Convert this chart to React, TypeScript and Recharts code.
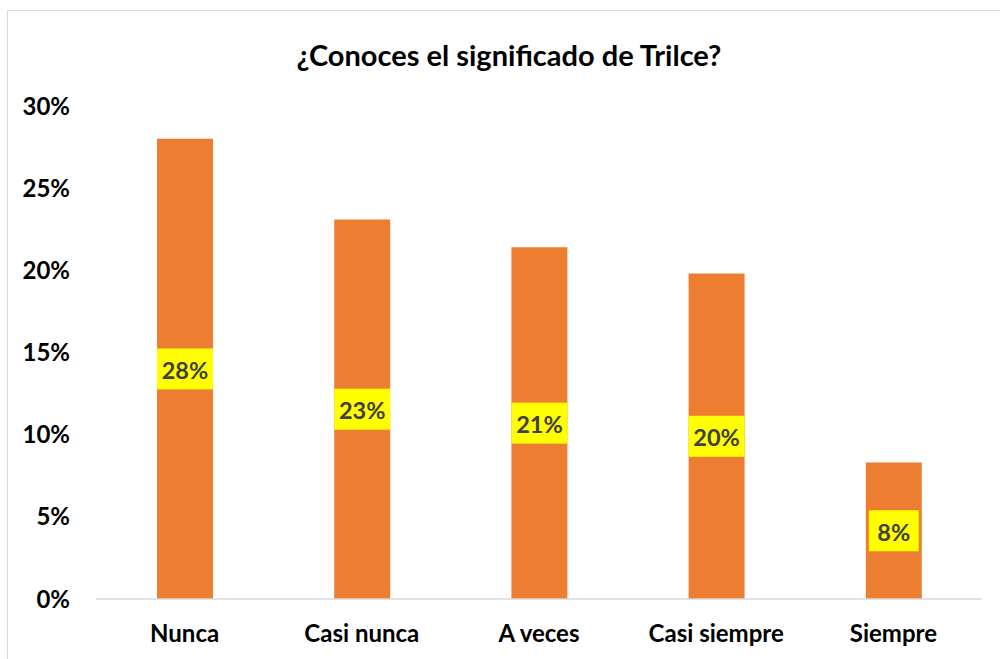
import { Bar, BarChart, LabelList, XAxis, YAxis } from "recharts"

const categories = ["Nunca", "Casi nunca", "A veces", "Casi siempre", "Siempre"]
const values = [0.28, 0.231, 0.214, 0.198, 0.083]
const labels = ["28%", "23%", "21%", "20%", "8%"]
const yTicks = [0, 0.05, 0.1, 0.15, 0.2, 0.25, 0.3]

const data = categories.map((c, i) => ({ name: c, value: values[i], label: labels[i] }))

const FONT = "Lato, Carlito, Calibri, sans-serif"

function YellowLabel(props: any) {
  const { x, y, width, height, index } = props
  const text = labels[index]
  const w = 38 + 6 * text.length
  const h = 41
  const cx = x + width / 2
  const cy = y + height / 2
  return (
    <g>
      <rect x={cx - w / 2} y={cy - h / 2} width={w} height={h} fill="#FFFF00" />
      <text x={cx} y={cy + 1} textAnchor="middle" dominantBaseline="central" fill="#404040" fontSize={23.5} fontWeight={700} fontFamily={FONT}>
        {text}
      </text>
    </g>
  )
}

export default function App() {
  return (
    <div style={{ position: "absolute", left: 0, top: 0, width: 1000, height: 659, background: "#fff", overflow: "hidden" }}>
      <div style={{ position: "absolute", left: 7, top: 10, width: 1100, height: 700, border: "1px solid #d9d9d9" }} />
      <div
        style={{
          position: "absolute",
          left: 0,
          top: 38,
          width: 1018,
          textAlign: "center",
          fontFamily: FONT,
          fontWeight: 700,
          fontSize: 29,
          color: "#000",
          lineHeight: "34px",
        }}
      >
        ¿Conoces el significado de Trilce?
      </div>
      <div style={{ position: "absolute", left: 0, top: 0 }}>
        <BarChart width={1000} height={659} data={data} margin={{ top: 106, right: 18, left: 0, bottom: 0 }}>
          <XAxis
            dataKey="name"
            height={60}
            tickLine={false}
            tickSize={0}
            tickMargin={26}
            axisLine={{ stroke: "#d9d9d9", strokeWidth: 1.5 }}
            tick={{ fill: "#000", fontSize: 24, fontWeight: 700, fontFamily: FONT }}
            interval={0}
          />
          <YAxis
            width={96}
            domain={[0, 0.3]}
            ticks={yTicks}
            tickFormatter={(v: number) => `${Math.round(v * 100)}%`}
            axisLine={false}
            tickLine={false}
            tickSize={0}
            tickMargin={26}
            tick={{ fill: "#000", fontSize: 24, fontWeight: 700, fontFamily: FONT }}
          />
          <Bar dataKey="value" fill="#ED7D31" barSize={56} isAnimationActive={false}>
            <LabelList dataKey="label" content={YellowLabel} />
          </Bar>
        </BarChart>
      </div>
    </div>
  )
}
